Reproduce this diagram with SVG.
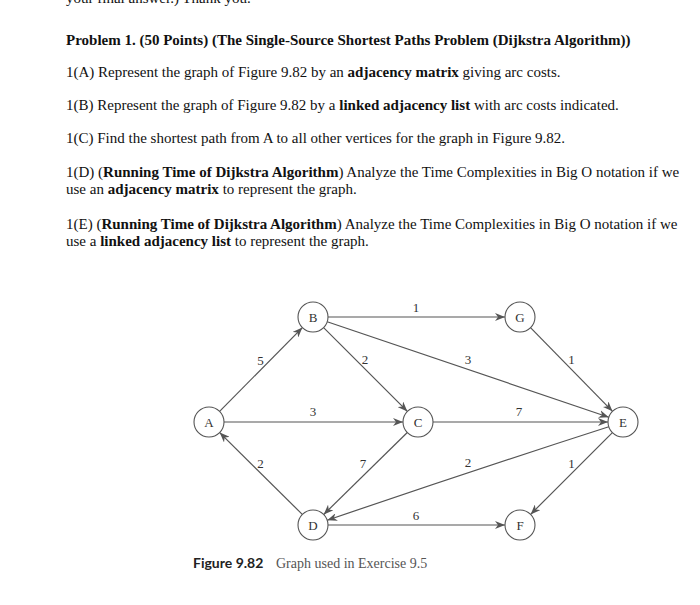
<svg xmlns="http://www.w3.org/2000/svg" width="700" height="605" viewBox="0 0 700 605">
<style>
.t{font-family:"Liberation Serif","Times New Roman",serif;font-size:15px;fill:#111}
.b{font-weight:bold}
.n circle{fill:#fff;stroke:#555;stroke-width:1.1}
.n text{font-family:"Liberation Serif",serif;font-size:13px;fill:#333;text-anchor:middle}
.e{stroke:#555;stroke-width:1.2;fill:none;marker-end:url(#ah)}
.l{font-family:"Liberation Serif",serif;font-size:13px;fill:#333;text-anchor:middle}
</style>
<defs>
<marker id="ah" viewBox="0 0 10 8" refX="10" refY="4" markerWidth="10" markerHeight="8" markerUnits="userSpaceOnUse" orient="auto">
<path d="M0,0 L10,4 L0,8 L3,4 z" fill="#555"/>
</marker>
</defs>
<rect width="700" height="605" fill="#fff"/>
<g id="text">
<text class="t" x="66" y="3">your final answer.) Thank you.</text>
<text class="t b" x="66" y="45">Problem 1. (50 Points) (The Single-Source Shortest Paths Problem (Dijkstra Algorithm))</text>
<text class="t" x="66" y="77">1(A) Represent the graph of Figure 9.82 by an <tspan class="b">adjacency matrix</tspan> giving arc costs.</text>
<text class="t" x="66" y="110">1(B) Represent the graph of Figure 9.82 by a <tspan class="b">linked adjacency list</tspan> with arc costs indicated.</text>
<text class="t" x="66" y="143">1(C) Find the shortest path from A to all other vertices for the graph in Figure 9.82.</text>
<text class="t" x="66" y="177">1(D) (<tspan class="b">Running Time of Dijkstra Algorithm</tspan>) Analyze the Time Complexities in Big O notation if we</text>
<text class="t" x="66" y="194">use an <tspan class="b">adjacency matrix</tspan> to represent the graph.</text>
<text class="t" x="66" y="229">1(E) (<tspan class="b">Running Time of Dijkstra Algorithm</tspan>) Analyze the Time Complexities in Big O notation if we</text>
<text class="t" x="66" y="246">use a <tspan class="b">linked adjacency list</tspan> to represent the graph.</text>
</g>
<g id="connectors">
<line class="e" x1="219.6" y1="411.3" x2="302.4" y2="327.6"/>
<line class="e" x1="323.6" y1="327.6" x2="407.4" y2="411.4"/>
<line class="e" x1="328" y1="317" x2="505" y2="317"/>
<line class="e" x1="327.2" y1="321.8" x2="608.8" y2="417.2"/>
<line class="e" x1="224" y1="422" x2="403" y2="422"/>
<line class="e" x1="302.3" y1="514.4" x2="219.7" y2="432.6"/>
<line class="e" x1="407.3" y1="432.5" x2="323.7" y2="514.5"/>
<line class="e" x1="433" y1="422" x2="608" y2="422"/>
<line class="e" x1="530.5" y1="327.7" x2="612.5" y2="411.3"/>
<path class="e" d="M608.8,426.7 Q468,472 327.2,520.3"/>
<line class="e" x1="612.4" y1="432.6" x2="530.6" y2="514.4"/>
<line class="e" x1="328" y1="525" x2="505" y2="525"/>
<text class="l" x="260.5" y="365">5</text>
<text class="l" x="365" y="364">2</text>
<text class="l" x="416" y="312">1</text>
<text class="l" x="468" y="364">3</text>
<text class="l" x="313" y="416">3</text>
<text class="l" x="260.5" y="468">2</text>
<text class="l" x="363" y="468">7</text>
<text class="l" x="519" y="416">7</text>
<text class="l" x="571.5" y="364">1</text>
<text class="l" x="468" y="467">2</text>
<text class="l" x="571.5" y="468">1</text>
<text class="l" x="416" y="520">6</text>
</g>
<g id="A" class="n"><circle cx="209" cy="422" r="15"/><text x="209" y="426.5">A</text></g>
<g id="B" class="n"><circle cx="313" cy="317" r="15"/><text x="313" y="321.5">B</text></g>
<g id="C" class="n"><circle cx="418" cy="422" r="15"/><text x="418" y="426.5">C</text></g>
<g id="D" class="n"><circle cx="313" cy="525" r="15"/><text x="313" y="529.5">D</text></g>
<g id="E" class="n"><circle cx="623" cy="422" r="15"/><text x="623" y="426.5">E</text></g>
<g id="F" class="n"><circle cx="520" cy="525" r="15"/><text x="520" y="529.5">F</text></g>
<g id="G" class="n"><circle cx="520" cy="317" r="15"/><text x="520" y="321.5">G</text></g>
<g id="caption">
<text x="193" y="568" style="font-family:Lato,'Liberation Sans',sans-serif;font-weight:bold;font-size:14px;fill:#222">Figure 9.82</text>
<text x="276" y="568" style="font-family:'Liberation Serif',serif;font-size:14px;fill:#555">Graph used in Exercise 9.5</text>
</g>
</svg>
